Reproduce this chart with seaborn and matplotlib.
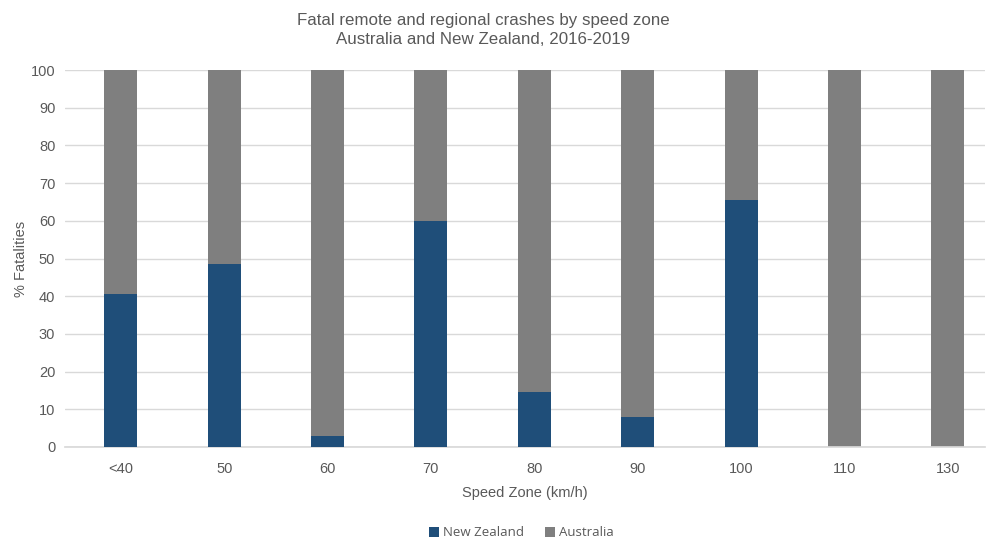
import pandas as pd
import seaborn as sns
import matplotlib.pyplot as plt

# values
speed_zones = ['<40', '50', '60', '70', '80', '90', '100', '110', '130']
new_zealand = [40.6, 48.6, 3.0, 59.9, 14.7, 8.0, 65.5, 0.0, 0.0]
australia = [59.4, 51.4, 97.0, 40.1, 85.3, 92.0, 34.5, 100.0, 100.0]

df = pd.DataFrame({'zone': speed_zones, 'nz': new_zealand, 'aus': australia})
df['total'] = df['nz'] + df['aus']

sns.set_theme(style='white')
plt.rcParams['font.family'] = ['Liberation Sans', 'DejaVu Sans']

fig = plt.figure(figsize=(9.91, 5.43), dpi=100)
ax = fig.add_axes([65 / 991, 1 - 447 / 543, 920 / 991, 377 / 543])

# stacked: grey total first, then New Zealand over it
sns.barplot(data=df, x='zone', y='total', color='#7f7f7f', width=0.32,
            saturation=1, ax=ax, label='Australia', zorder=2, linewidth=0)
sns.barplot(data=df, x='zone', y='nz', color='#1f4e79', width=0.32,
            saturation=1, ax=ax, label='New Zealand', zorder=3, linewidth=0)

ax.set_xlim(-0.54, 8.36)
ax.set_ylim(0, 100)
ax.set_yticks(range(0, 101, 10))
ax.yaxis.grid(True, color='#d9d9d9', linewidth=1, zorder=0)
ax.set_axisbelow(True)
for s in ['top', 'right', 'left']:
    ax.spines[s].set_visible(False)
ax.spines['bottom'].set_color('#d9d9d9')
ax.tick_params(axis='both', colors='#595959', labelsize=10.5, length=0)
ax.tick_params(axis='x', pad=11)
ax.tick_params(axis='y', pad=7)

ax.set_xlabel('Speed Zone (km/h)', color='#595959', fontsize=10.5, labelpad=7)
ax.set_ylabel('% Fatalities', color='#595959', fontsize=10.5, labelpad=2)
fig.text(483 / 991, 1 - 30 / 543,
         'Fatal remote and regional crashes by speed zone\nAustralia and New Zealand, 2016-2019',
         color='#595959', fontsize=12.2, ha='center', va='center', linespacing=1.25)

handles, labels = ax.get_legend_handles_labels()
order = [labels.index('New Zealand'), labels.index('Australia')]
leg = fig.legend([handles[i] for i in order], [labels[i] for i in order],
                 loc='center', bbox_to_anchor=(0.526, 1 - 533 / 543),
                 ncol=2, frameon=False, handlelength=0.75,
                 handleheight=0.75, handletextpad=0.3, columnspacing=1.6,
                 prop={'family': 'Open Sans', 'size': 9.5})
for t in leg.get_texts():
    t.set_color('#595959')
if ax.get_legend():
    ax.get_legend().remove()

fig.savefig('out.png', dpi=100)
